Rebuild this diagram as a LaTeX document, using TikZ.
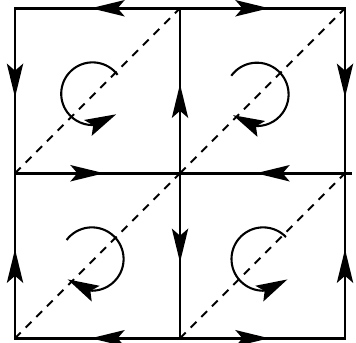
\documentclass[tikz,border=0pt]{standalone}
\usetikzlibrary{arrows.meta,bending,decorations.markings}

\begin{document}
\begin{tikzpicture}[
  >={Stealth[length=29pt,width=14pt,inset=6pt]},
  edge/.style={line width=2.3pt, line cap=rect, postaction={decorate},
    decoration={markings, mark=at position 0.54 with {\arrow{>}}}},
  diag/.style={line width=1.7pt, dash pattern=on 7pt off 6pt},
  spin/.style={line width=1.8pt, -{Stealth[length=27pt,width=15pt,inset=5pt]}}
]
\useasboundingbox (-0.455,-0.142) rectangle (10.333,10.25);

% grid corners
\coordinate (p00) at (0,0);
\coordinate (p10) at (5,0);
\coordinate (p20) at (10,0);
\coordinate (p01) at (0,5);
\coordinate (p11) at (5,5);
\coordinate (p21) at (10,5);
\coordinate (p02) at (0,10);
\coordinate (p12) at (5,10);
\coordinate (p22) at (10,10);

% circulation centres
\coordinate (c1) at (2.35,7.41);
\coordinate (c2) at (7.33,7.39);
\coordinate (c3) at (2.33,2.40);
\coordinate (c4) at (7.52,2.40);

\draw[diag] (p01) -- (p12);
\draw[diag] (p11) -- (p22);
\draw[diag] (p00) -- (p11);
\draw[diag] (p10) -- (p21);

\draw[edge] (p12) -- (p02);
\draw[edge] (p12) -- (p22);
\draw[edge] (p02) -- (p01);
\draw[edge] (p22) -- (p21);
\draw[edge] (p11) -- (p12);
\draw[edge] (p01) -- (p11);
\draw[edge, shorten <=-5pt] (p21) -- (p11);
\draw[edge] (p11) -- (p10);
\draw[edge] (p00) -- (p01);
\draw[edge] (p20) -- (p21);
\draw[edge] (p10) -- (p00);
\draw[edge] (p10) -- (p20);

\draw[spin] ([shift={(37:0.95)}]c1) arc[start angle=37, end angle=319, radius=0.95];
\draw[spin] ([shift={(144:0.96)}]c2) arc[start angle=144, end angle=-139, radius=0.96];
\draw[spin] ([shift={(143:0.96)}]c3) arc[start angle=143, end angle=-140, radius=0.96];
\draw[spin] ([shift={(44:0.96)}]c4) arc[start angle=44, end angle=320, radius=0.96];
\end{tikzpicture}
\end{document}
